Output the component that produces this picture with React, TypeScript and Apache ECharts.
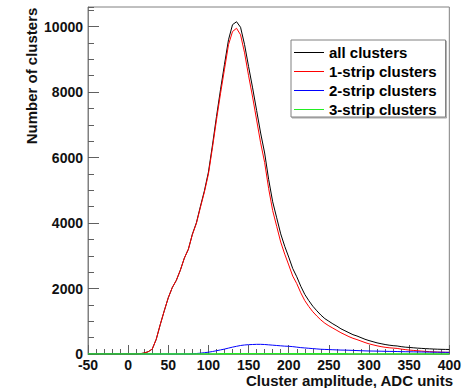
import React, { useEffect, useRef } from "react";
import * as echarts from "echarts";

// ADC amplitude bins (x positions of the histogram samples)
const adcBins = [
  -50, -45, -40, -35, -30, -25, -20, -15, -10, -5, 0, 5, 10, 15, 20, 25, 30, 35, 40, 45,
  50, 55, 60, 65, 70, 75, 80, 85, 90, 95, 100, 105, 110, 115, 120, 125, 130, 135, 140, 145,
  150, 155, 160, 165, 170, 175, 180, 185, 190, 195, 200, 205, 210, 215, 220, 225, 230, 235, 240, 245,
  250, 255, 260, 265, 270, 275, 280, 285, 290, 295, 300, 305, 310, 315, 320, 325, 330, 335, 340, 345,
  350, 355, 360, 365, 370, 375, 380, 385, 390, 395, 400,
];

const allClusters = [
  0, 0, 0, 0, 0, 0, 0, 0, 0, 0, 0, 0, 0, 10, 30, 70, 150, 450, 900, 1320,
  1720, 2030, 2250, 2560, 2930, 3200, 3660, 4010, 4510, 4990, 5560, 6380, 7250, 8070, 8850, 9600, 10060, 10150, 9980, 9450,
  8780, 8130, 7440, 6750, 6140, 5330, 4650, 4160, 3670, 3290, 2960, 2610, 2360, 2070, 1820, 1630, 1460, 1320, 1190, 1080,
  1000, 920, 850, 770, 710, 650, 590, 550, 500, 450, 410, 375, 340, 315, 290, 270, 255, 245, 225, 210,
  200, 190, 180, 172, 165, 158, 152, 147, 143, 140, 138,
];

const oneStrip = [
  0, 0, 0, 0, 0, 0, 0, 0, 0, 0, 0, 0, 0, 10, 30, 70, 150, 450, 900, 1320,
  1720, 2030, 2250, 2560, 2930, 3200, 3650, 3990, 4480, 4950, 5500, 6300, 7150, 7950, 8700, 9450, 9850, 9950, 9750, 9200,
  8500, 7850, 7150, 6450, 5850, 5050, 4380, 3900, 3420, 3050, 2720, 2380, 2150, 1870, 1630, 1450, 1290, 1160, 1040, 940,
  860, 790, 720, 650, 590, 530, 480, 440, 395, 350, 310, 280, 250, 225, 205, 190, 180, 170, 150, 135,
  120, 110, 100, 90, 80, 72, 65, 60, 55, 52, 50,
];

const twoStrip = [
  0, 0, 0, 0, 0, 0, 0, 0, 0, 0, 0, 0, 0, 0, 0, 0, 0, 0, 0, 0,
  0, 0, 0, 0, 0, 0, 5, 15, 25, 40, 55, 75, 100, 125, 150, 180, 210, 235, 260, 275,
  285, 290, 295, 295, 290, 280, 270, 260, 250, 240, 235, 225, 210, 195, 185, 175, 165, 155, 145, 140,
  135, 130, 125, 120, 118, 115, 110, 105, 100, 95, 92, 90, 88, 85, 82, 80, 78, 75, 72, 70,
  68, 66, 64, 62, 60, 58, 56, 55, 53, 52, 50,
];

const threeStrip = [
  0, 0, 0, 0, 0, 0, 0, 0, 0, 0, 0, 0, 0, 0, 0, 0, 0, 0, 0, 0,
  0, 0, 0, 0, 0, 0, 0, 0, 0, 1, 1, 2, 2, 3, 4, 5, 6, 6, 7, 7,
  8, 8, 8, 8, 8, 7, 7, 7, 6, 6, 6, 5, 5, 5, 5, 4, 4, 4, 4, 3,
  3, 3, 3, 3, 3, 2, 2, 2, 2, 2, 2, 2, 2, 2, 2, 1, 1, 1, 1, 1,
  1, 1, 1, 1, 1, 1, 1, 1, 1, 1, 1,
];

const seriesNames = ["all clusters", "1-strip clusters", "2-strip clusters", "3-strip clusters"];
const seriesColors = ["#000000", "#ff0000", "#0000ff", "#22ee22"];
const seriesWidths = [1, 1, 1, 1.6];
const seriesValues = [allClusters, oneStrip, twoStrip, threeStrip];

const yTitle = "Number of clusters";
const xTitle = "Cluster amplitude, ADC units";

const FONT = "'Liberation Sans', Arial, sans-serif";
const AXIS_GREY = "#808080";

export default function App() {
  const ref = useRef<HTMLDivElement>(null);

  useEffect(() => {
    if (!ref.current) return;
    const chart = echarts.init(ref.current, undefined, { renderer: "svg" });

    const series = seriesNames.map((name, i) => ({
      name,
      type: "line",
      xAxisIndex: 0,
      yAxisIndex: 0,
      showSymbol: false,
      symbol: "none",
      lineStyle: { color: seriesColors[i], width: seriesWidths[i] },
      itemStyle: { color: seriesColors[i] },
      data: adcBins.map((x, k) => [x, seriesValues[i][k]]),
      z: 3 + i,
    }));

    const plain = (v: number) => String(v);

    chart.setOption({
      animation: false,
      backgroundColor: "#ffffff",
      textStyle: { fontFamily: FONT },
      grid: {
        left: 88,
        right: 11,
        top: 7,
        bottom: 34,
        show: true,
        borderColor: AXIS_GREY,
        borderWidth: 1,
        containLabel: false,
      },
      legend: {
        orient: "vertical",
        left: 291,
        top: 40,
        padding: [5, 9, 0, 3],
        itemGap: 4,
        itemWidth: 30,
        itemHeight: 1,
        icon: "rect",
        borderColor: AXIS_GREY,
        borderWidth: 1,
        backgroundColor: "#ffffff",
        shadowColor: "rgba(0,0,0,0.35)",
        shadowOffsetX: 1,
        shadowOffsetY: 1,
        shadowBlur: 0,
        data: seriesNames,
        textStyle: { fontFamily: FONT, fontWeight: "bold", fontSize: 15, color: "#000" },
      },
      xAxis: {
        type: "value",
        min: -50,
        max: 400,
        interval: 50,
        axisLine: { show: true, onZero: false, lineStyle: { color: AXIS_GREY, width: 1 } },
        axisTick: { show: true, inside: true, length: 9, lineStyle: { color: "#606060" } },
        minorTick: { show: true, splitNumber: 5, length: 5, lineStyle: { color: "#606060" } },
        splitLine: { show: false },
        axisLabel: {
          margin: 4,
          formatter: plain,
          fontFamily: FONT,
          fontWeight: "bold",
          fontSize: 14,
          color: "#111",
        },
      },
      yAxis: [
        {
          type: "value",
          position: "left",
          min: 0,
          max: 10600,
          interval: 2000,
          axisLine: { show: true, onZero: false, lineStyle: { color: AXIS_GREY, width: 1 } },
          axisTick: { show: true, inside: true, length: 11, lineStyle: { color: "#606060" } },
          splitLine: { show: false },
          axisLabel: {
            margin: 5,
            showMaxLabel: false,
            formatter: plain,
            fontFamily: FONT,
            fontWeight: "bold",
            fontSize: 14,
            color: "#111",
          },
        },
        {
          type: "value",
          position: "left",
          offset: 0,
          min: 0,
          max: 10600,
          interval: 500,
          axisLine: { show: false, onZero: false },
          axisTick: { show: true, inside: true, length: 6, lineStyle: { color: "#606060" } },
          splitLine: { show: false },
          axisLabel: { show: false },
        },
      ],
      graphic: [
        {
          type: "text",
          x: 31,
          y: 76,
          rotation: Math.PI / 2,
          style: {
            text: yTitle,
            fontFamily: FONT,
            fontWeight: "bold",
            fontSize: 15,
            fill: "#111",
            align: "center",
            verticalAlign: "middle",
          },
        },
        {
          type: "text",
          x: 453,
          y: 380,
          style: {
            text: xTitle,
            fontFamily: FONT,
            fontWeight: "bold",
            fontSize: 15,
            fill: "#111",
            align: "right",
            verticalAlign: "middle",
          },
        },
      ],
      series,
    });

    return () => chart.dispose();
  }, []);

  return (
    <div
      ref={ref}
      style={{ position: "absolute", left: 0, top: 0, width: 464, height: 388 }}
    />
  );
}
